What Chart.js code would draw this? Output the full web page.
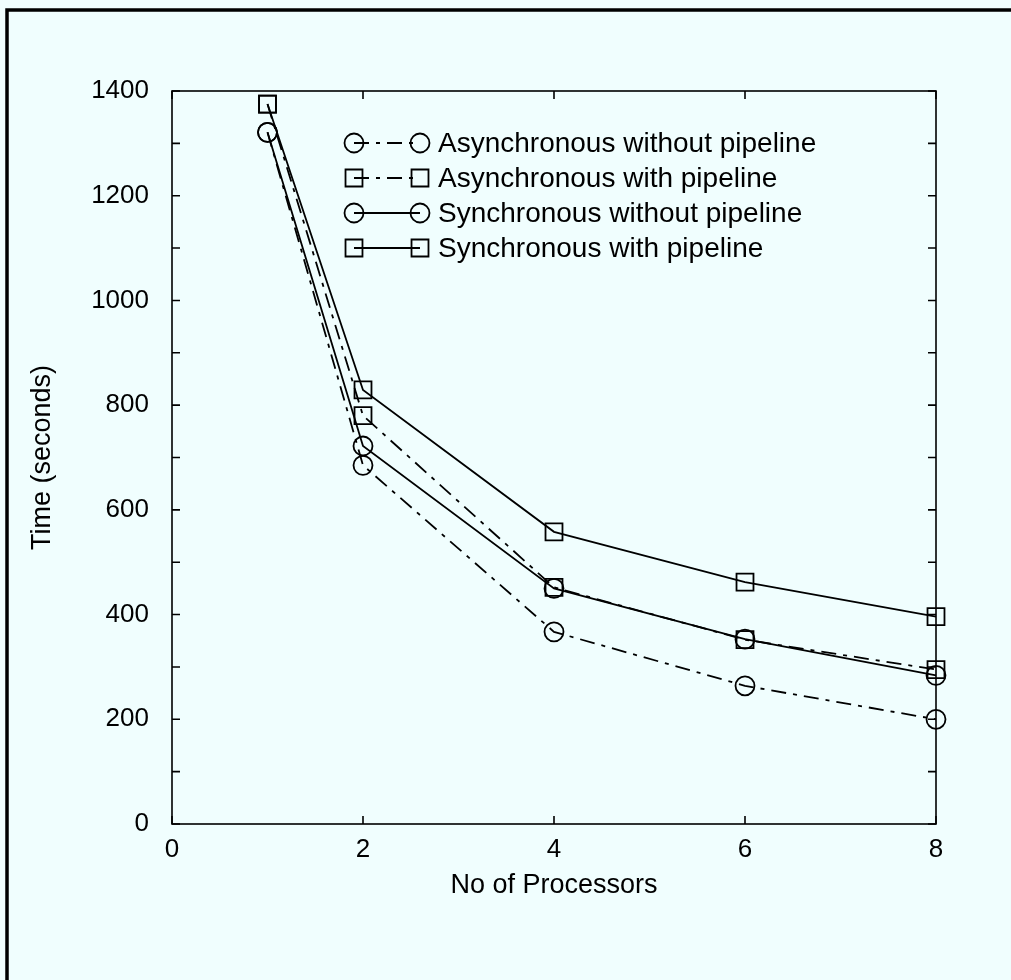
<!DOCTYPE html>
<html>
<head>
<meta charset="utf-8">
<title>Time vs processors</title>
<script src="https://cdn.jsdelivr.net/npm/chart.js@4.4.0/dist/chart.umd.min.js"></script>
<style>
  html, body { margin: 0; padding: 0; background: #f0fefe; }
  #wrap { width: 1011px; height: 980px; }
</style>
</head>
<body>
<div id="wrap"><canvas id="chart" width="1011" height="980"></canvas></div>
<script>
// values
const processors = [1, 2, 4, 6, 8];
const asyncNoPipe = [1321, 685, 367, 264, 200];
const asyncPipe = [1375, 780, 452, 352, 295];
const syncNoPipe = [1321, 722, 450, 353, 284];
const syncPipe = [1375, 829, 558, 462, 396];
const seriesNames = [
    'Asynchronous without pipeline',
    'Asynchronous with pipeline',
    'Synchronous without pipeline',
    'Synchronous with pipeline'
];
const xTicks = [0, 2, 4, 6, 8];

const FONT = "'Liberation Sans', Arial, Helvetica, sans-serif";
const dashDot = [15, 7, 4, 7];

const toPoints = (vals) => vals.map((v, i) => ({ x: processors[i], y: v }));

const makeSet = (label, vals, style, dash) => ({
    label: label,
    data: toPoints(vals),
    borderColor: '#000',
    borderWidth: 1.8,
    borderDash: dash,
    pointStyle: style,
    pointRadius: style === 'rect' ? 12 : 9.5,
    pointBorderWidth: 1.8,
    pointBorderColor: '#000',
    pointBackgroundColor: 'rgba(0,0,0,0)',
    tension: 0,
    fill: false,
    clip: false
});

// frame of the page + box round the plot with inward ticks
const framePlugin = {
    id: 'frame',
    afterDraw(chart) {
        const ctx = chart.ctx;
        const a = chart.chartArea;
        const xs = chart.scales.x;
        const ys = chart.scales.y;
        ctx.save();
        ctx.strokeStyle = '#000';

        // outer page frame (only top and left show in the scan)
        ctx.lineWidth = 3.5;
        ctx.beginPath();
        ctx.moveTo(7, 980);
        ctx.lineTo(7, 10);
        ctx.lineTo(1011, 10);
        ctx.stroke();

        ctx.lineWidth = 1.6;
        ctx.strokeRect(a.left, a.top, a.right - a.left, a.bottom - a.top);

        const tl = 8;
        ctx.beginPath();
        for (let v = 0; v <= 1400; v += 100) {
            const py = ys.getPixelForValue(v);
            ctx.moveTo(a.left, py); ctx.lineTo(a.left + tl, py);
            ctx.moveTo(a.right, py); ctx.lineTo(a.right - tl, py);
        }
        xTicks.forEach((v) => {
            const px = xs.getPixelForValue(v);
            ctx.moveTo(px, a.bottom); ctx.lineTo(px, a.bottom - tl);
            ctx.moveTo(px, a.top); ctx.lineTo(px, a.top + tl);
        });
        ctx.stroke();
        ctx.restore();
    }
};

// legend with marker - line - marker samples, like the original
const legendPlugin = {
    id: 'sampleLegend',
    afterDraw(chart) {
        const ctx = chart.ctx;
        const a = chart.chartArea;
        const x1 = a.left + 182;
        const x2 = a.left + 248;
        const textX = a.left + 266;
        ctx.save();
        chart.data.datasets.forEach((ds, i) => {
            const y = a.top + 52 + i * 35;
            ctx.strokeStyle = '#000';
            ctx.lineWidth = 1.8;
            ctx.setLineDash(ds.borderDash || []);
            ctx.beginPath();
            ctx.moveTo(x1, y);
            ctx.lineTo(x2, y);
            ctx.stroke();
            ctx.setLineDash([]);
            ctx.fillStyle = 'rgba(0,0,0,0)';
            const pt = { pointStyle: ds.pointStyle, radius: ds.pointRadius, borderWidth: 1.8, rotation: 0 };
            Chart.helpers.drawPoint(ctx, pt, x1, y);
            Chart.helpers.drawPoint(ctx, pt, x2, y);
            ctx.fillStyle = '#000';
            ctx.font = '28px ' + FONT;
            ctx.textBaseline = 'middle';
            ctx.textAlign = 'left';
            ctx.fillText(ds.label, textX, y + 1);
        });
        ctx.restore();
    }
};

new Chart(document.getElementById('chart'), {
    type: 'line',
    data: {
        datasets: [
            makeSet(seriesNames[0], asyncNoPipe, 'circle', dashDot),
            makeSet(seriesNames[1], asyncPipe, 'rect', dashDot),
            makeSet(seriesNames[2], syncNoPipe, 'circle', []),
            makeSet(seriesNames[3], syncPipe, 'rect', [])
        ]
    },
    options: {
        responsive: false,
        animation: false,
        layout: { padding: { top: 91, right: 75, left: 0, bottom: 0 } },
        plugins: {
            legend: { display: false },
            tooltip: { enabled: false }
        },
        scales: {
            x: {
                type: 'linear',
                min: 0,
                max: 8,
                afterFit: (s) => { s.height = 156; },
                afterBuildTicks: (s) => { s.ticks = xTicks.map((v) => ({ value: v })); },
                grid: { display: false, drawTicks: false },
                border: { display: false },
                ticks: {
                    color: '#000',
                    padding: 10,
                    font: { family: FONT, size: 26 }
                },
                title: {
                    display: true,
                    text: 'No of Processors',
                    color: '#000',
                    font: { family: FONT, size: 27 },
                    padding: { top: 0, bottom: 78 }
                }
            },
            y: {
                min: 0,
                max: 1400,
                afterFit: (s) => { s.width = 172; },
                grid: { display: false, drawTicks: false },
                border: { display: false },
                ticks: {
                    stepSize: 100,
                    autoSkip: false,
                    color: '#000',
                    padding: 23,
                    font: { family: FONT, size: 26 },
                    callback: (v) => (v % 200 === 0 ? v : '')
                },
                title: {
                    display: true,
                    text: 'Time (seconds)',
                    color: '#000',
                    font: { family: FONT, size: 27 },
                    padding: { top: 26, bottom: 0 }
                }
            }
        }
    },
    plugins: [framePlugin, legendPlugin]
});
</script>
</body>
</html>
